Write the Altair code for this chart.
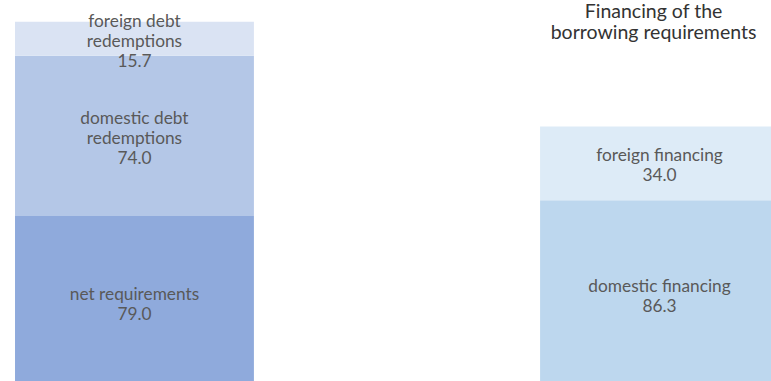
import altair as alt
import pandas as pd

# data
bars = ["Borrowing requirements", "Borrowing requirements", "Borrowing requirements",
        "Financing", "Financing"]
components = ["net requirements", "domestic debt\nredemptions", "foreign debt\nredemptions",
              "domestic financing", "foreign financing"]
values = [79.0, 74.0, 15.7, 86.3, 34.0]
orders = [1, 2, 3, 1, 2]
colors = ["#8FAADC", "#B4C7E7", "#DAE3F3", "#BDD7EE", "#DDEBF7"]
title_lines = "Financing of the\nborrowing requirements"

df = pd.DataFrame({"bar": bars, "component": components, "value": values, "ord": orders})
df["label"] = [f"{c}\n{v:.1f}" for c, v in zip(components, values)]
df["nlines"] = [lab.count("\n") + 1 for lab in df["label"]]

LINE_H = 20
PX_PER_UNIT = 381 / (178.8 - 2.77)

xscale = alt.Scale(domain=["Borrowing requirements", "Financing"], range=[0, 794],
                   paddingInner=0.545, paddingOuter=0.0286)
yscale = alt.Scale(domain=[2.77, 178.8], nice=False, zero=False)

base = alt.Chart(df).transform_stack(
    stack="value", groupby=["bar"], as_=["y0", "y1"], sort=[alt.SortField("ord")]
).transform_calculate(
    mid=f"(datum.y0 + datum.y1) / 2 + (datum.nlines - 1) * {LINE_H / 2} / {PX_PER_UNIT}"
)

bars_layer = base.mark_bar(clip=True).encode(
    x=alt.X("bar:N", scale=xscale, axis=None),
    y=alt.Y("y0:Q", scale=yscale, axis=None),
    y2="y1:Q",
    color=alt.Color("component:N", scale=alt.Scale(domain=components, range=colors), legend=None),
)

text_layer = base.mark_text(
    font="Lato", fontSize=17.3, color="#595959", lineBreak="\n", lineHeight=LINE_H,
    baseline="middle", align="center", dy=3
).encode(
    x=alt.X("bar:N", scale=xscale, axis=None),
    y=alt.Y("mid:Q", scale=yscale, axis=None),
    text="label:N",
)

title_df = pd.DataFrame({"bar": ["Financing"], "t": [title_lines]})
title_layer = alt.Chart(title_df).mark_text(
    font="Lato", fontSize=19.5, color="#333333", lineBreak="\n", lineHeight=21,
    baseline="middle", align="center", dx=-6
).encode(
    x=alt.X("bar:N", scale=xscale, axis=None),
    y=alt.value(12),
    text="t:N",
)

chart = alt.layer(bars_layer, text_layer, title_layer).properties(
    width=771, height=381, autosize=alt.AutoSizeParams(type="none"), padding=0
).configure_view(stroke=None)

chart.save("out.html", embed_options={"renderer": "svg", "actions": False})
